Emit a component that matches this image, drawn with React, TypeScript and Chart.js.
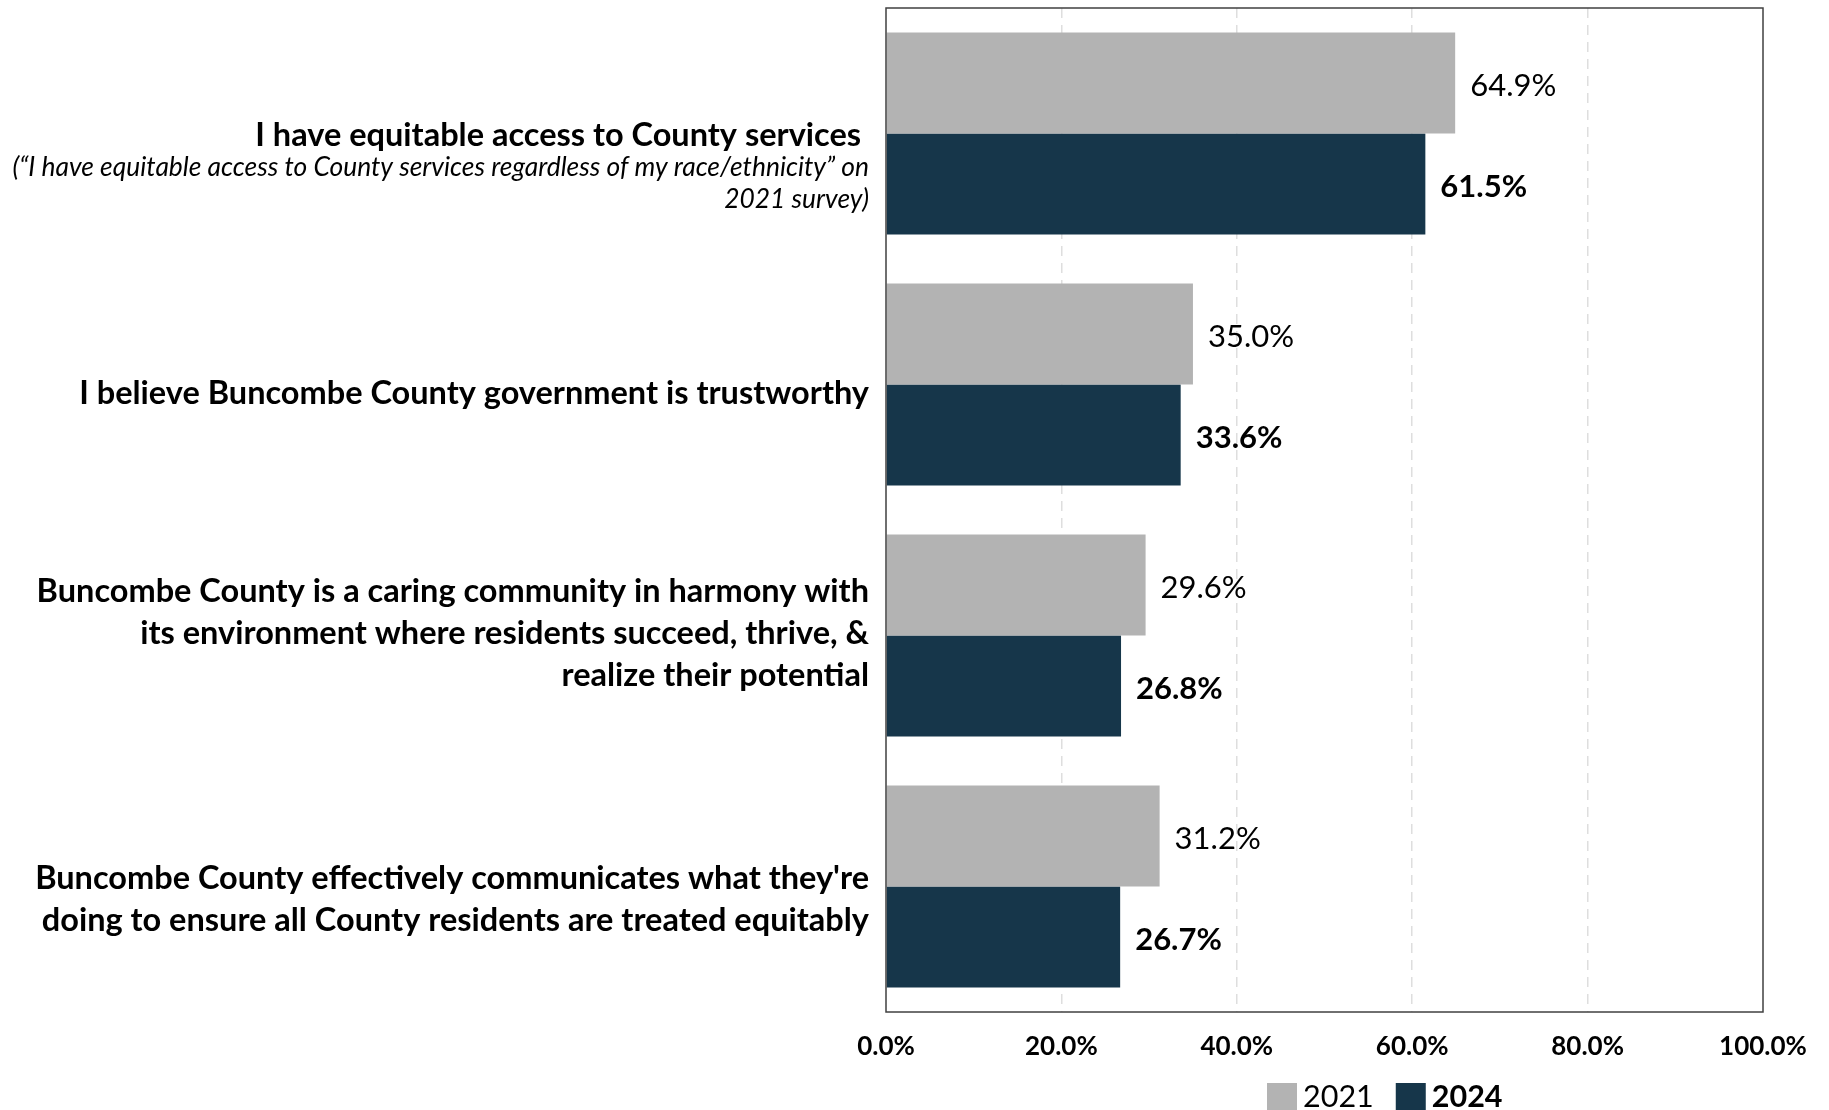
import React, { useEffect, useRef } from "react";
import { Chart, registerables } from "chart.js";

Chart.register(...registerables);

// ---- Data ----
const categoryLines: string[][] = [
  ["I have equitable access to County services "],
  ["I believe Buncombe County government is trustworthy"],
  [
    "Buncombe County is a caring community in harmony with",
    "its environment where residents succeed, thrive, &",
    "realize their potential",
  ],
  [
    "Buncombe County effectively communicates what they're",
    "doing to ensure all County residents are treated equitably",
  ],
];
const categoryNotes: string[][] = [
  [
    "(\u201CI have equitable access to County services regardless of my race/ethnicity\u201D on",
    "2021 survey)",
  ],
  [],
  [],
  [],
];
const seriesNames = ["2021", "2024"];
const values2021 = [64.9, 35.0, 29.6, 31.2];
const values2024 = [61.5, 33.6, 26.8, 26.7];
const xTickValues = [0, 20, 40, 60, 80, 100];

// ---- Styles ----
const COLORS = ["#b3b3b3", "#16364a"];
const FONT = "Lato, 'Open Sans', sans-serif";
const LABEL_OFFSETS = [2, 9, -2, 13];

const overlayPlugin = {
  id: "overlay",
  afterDatasetsDraw(chart: any) {
    const ctx: CanvasRenderingContext2D = chart.ctx;
    const { left, right, top, bottom } = chart.chartArea;
    ctx.save();

    // plot border
    ctx.strokeStyle = "#404040";
    ctx.lineWidth = 1.5;
    ctx.strokeRect(left, top, right - left, bottom - top);

    // data labels
    chart.data.datasets.forEach((ds: any, di: number) => {
      const meta = chart.getDatasetMeta(di);
      meta.data.forEach((bar: any, i: number) => {
        ctx.font = `${di === 1 ? "bold " : ""}31px ${FONT}`;
        ctx.fillStyle = "#000";
        ctx.textAlign = "left";
        ctx.textBaseline = "middle";
        ctx.fillText(Number(ds.data[i]).toFixed(1) + "%", bar.x + 15, bar.y + 3);
      });
    });

    // category labels
    const yScale = chart.scales.y;
    const labelRight = left - 17;
    const boldLH = 42;
    const noteLH = 31.5;
    categoryLines.forEach((lines, i) => {
      const cy = yScale.getPixelForTick(i) + LABEL_OFFSETS[i];
      const firstY = cy - ((lines.length - 1) * boldLH) / 2;
      ctx.textAlign = "right";
      ctx.textBaseline = "middle";
      ctx.fillStyle = "#000";
      ctx.font = `bold 32.5px ${FONT}`;
      lines.forEach((ln, k) => ctx.fillText(ln, labelRight, firstY + k * boldLH));
      const lastY = firstY + (lines.length - 1) * boldLH;
      ctx.font = `italic 26.4px ${FONT}`;
      categoryNotes[i].forEach((ln, k) =>
        ctx.fillText(ln, labelRight, lastY + 32 + k * noteLH)
      );
    });

    // legend
    let x = 1267;
    const cyL = 1097;
    chart.data.datasets.forEach((ds: any, di: number) => {
      ctx.fillStyle = ds.backgroundColor;
      ctx.fillRect(x, cyL - 14, 30, 30);
      ctx.fillStyle = "#000";
      ctx.textAlign = "left";
      ctx.textBaseline = "middle";
      ctx.font = `${di === 1 ? "bold " : ""}30.5px ${FONT}`;
      const tx = x + 36;
      ctx.fillText(ds.label, tx, cyL);
      x = tx + ctx.measureText(ds.label).width + 22;
    });

    ctx.restore();
  },
};

export default function App() {
  const ref = useRef<HTMLCanvasElement | null>(null);

  useEffect(() => {
    if (!ref.current) return;
    const chart = new Chart(ref.current, {
      type: "bar",
      data: {
        labels: categoryLines.map((l) => l.join(" ")),
        datasets: [
          {
            label: seriesNames[0],
            data: values2021,
            backgroundColor: COLORS[0],
            categoryPercentage: 0.805,
            barPercentage: 1,
          },
          {
            label: seriesNames[1],
            data: values2024,
            backgroundColor: COLORS[1],
            categoryPercentage: 0.805,
            barPercentage: 1,
          },
        ],
      },
      options: {
        indexAxis: "y",
        responsive: false,
        animation: false,
        devicePixelRatio: 1,
        layout: { padding: { left: 886, right: 66, top: 8, bottom: 0 } },
        plugins: {
          legend: { display: false },
          tooltip: { enabled: false },
        },
        scales: {
          y: {
            display: false,
            offset: true,
          },
          x: {
            min: 0,
            max: 100,
            afterBuildTicks: (scale: any) => {
              scale.ticks = xTickValues.map((v) => ({ value: v }));
            },
            afterFit: (scale: any) => {
              scale.height = 98;
            },
            grid: {
              drawTicks: false,
              lineWidth: 1.5,
              color: (c: any) =>
                c.tick && (c.tick.value === 0 || c.tick.value === 100)
                  ? "rgba(0,0,0,0)"
                  : "#dedede",
            },
            border: { display: false, dash: [10, 7] },
            ticks: {
              padding: 19,
              color: "#000",
              font: { family: FONT, size: 26, weight: "bold" },
              callback: (v: any) => Number(v).toFixed(1) + "%",
            },
          },
        },
      },
      plugins: [overlayPlugin],
    } as any);
    return () => chart.destroy();
  }, []);

  return (
    <div style={{ position: "absolute", left: 0, top: 0, width: 1829, height: 1110, background: "#fff" }}>
      <canvas ref={ref} width={1829} height={1110} style={{ display: "block" }} />
    </div>
  );
}
